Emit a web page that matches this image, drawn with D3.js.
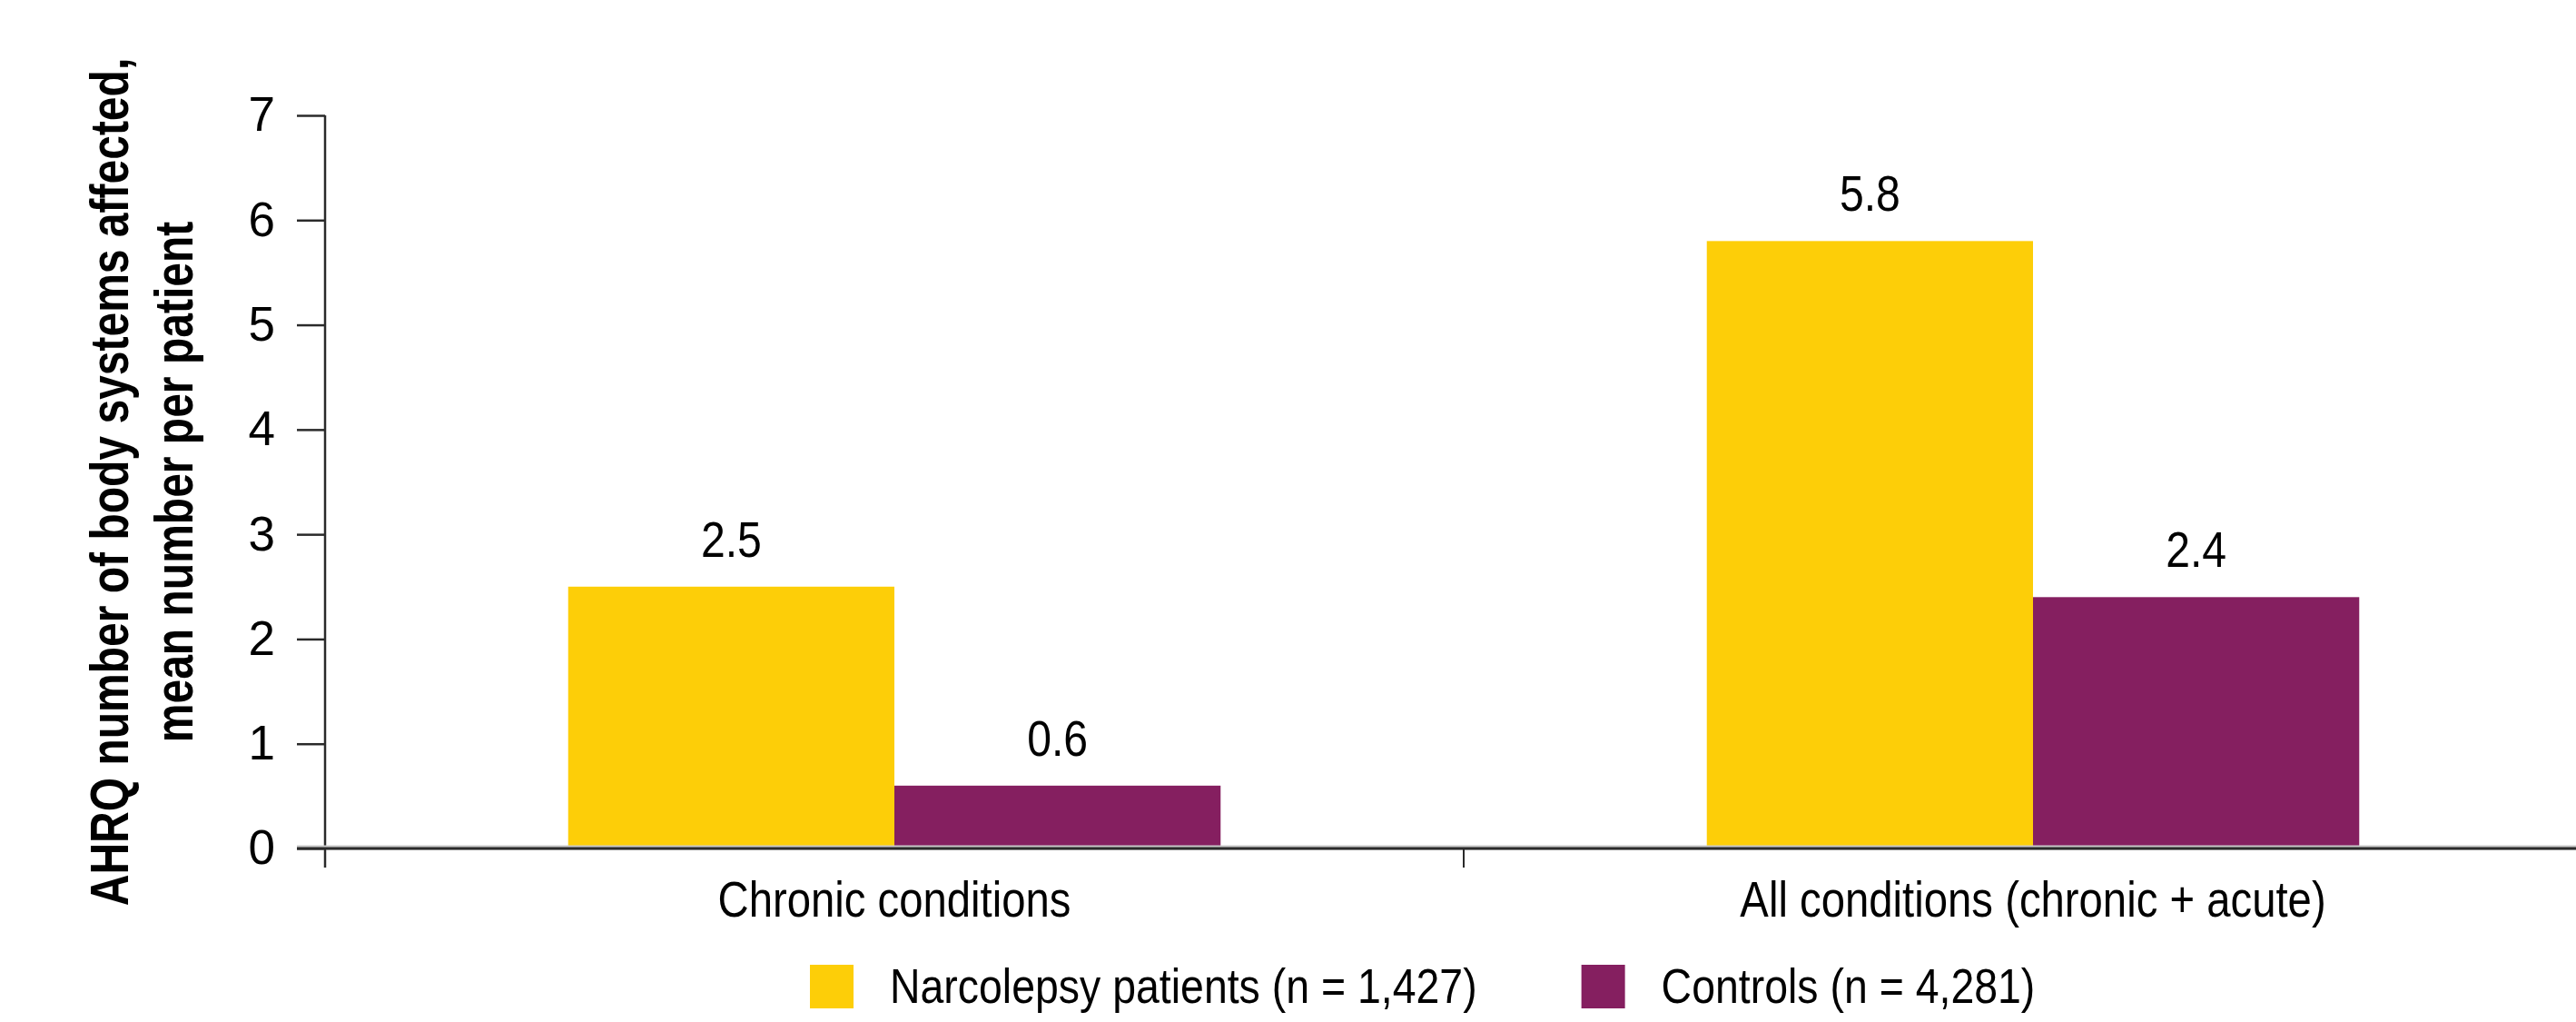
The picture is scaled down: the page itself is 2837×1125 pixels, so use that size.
<!DOCTYPE html>
<html>
<head>
<meta charset="utf-8">
<script src="https://cdn.jsdelivr.net/npm/d3@7/dist/d3.min.js"></script>
<style>
  body { margin: 0; background: #fff; }
  svg { display: block; }
</style>
</head>
<body>
<svg id="chart" width="2837" height="1125"></svg>
<script>
// Mean number of AHRQ body systems affected per patient
const categories = ["Chronic conditions", "All conditions (chronic + acute)"];
const seriesNames = ["Narcolepsy patients (n = 1,427)", "Controls (n = 4,281)"];
const narcolepsyValues = [2.5, 5.8];
const controlValues = [0.6, 2.4];
const yTickValues = [0, 1, 2, 3, 4, 5, 6, 7];
const yTitleLines = ["AHRQ number of body systems affected,", "mean number per patient"];
const seriesColors = ["#FDCE08", "#851F60"];

const rows = categories.map((c, i) => ({
  category: c,
  values: [narcolepsyValues[i], controlValues[i]]
}));

const W = 2837, H = 1125;
const plot = { left: 358, right: 2866, top: 127, bottom: 934 };
const sans = "'Liberation Sans', Arial, Helvetica, sans-serif";
// horizontal squeeze that gives the narrow, condensed letterforms
const narrow = 0.86;
const narrowBold = 0.8;

const svg = d3.select("#chart");

const y = d3.scaleLinear().domain([0, 7]).range([plot.bottom, plot.top]);
const x0 = d3.scaleBand().domain(categories).range([plot.left, plot.right])
  .paddingInner(0.427).paddingOuter(0.2135);
const x1 = d3.scaleBand().domain(d3.range(seriesNames.length)).range([0, x0.bandwidth()]);

// Bars
const groups = svg.append("g").selectAll("g").data(rows).join("g")
  .attr("transform", d => `translate(${x0(d.category)},0)`);

groups.selectAll("rect").data(d => d.values.map((v, i) => ({ v, i }))).join("rect")
  .attr("x", d => x1(d.i))
  .attr("width", x1.bandwidth())
  .attr("y", d => y(d.v))
  .attr("height", d => y(0) - y(d.v))
  .attr("fill", d => seriesColors[d.i]);

// Value labels above each bar
groups.selectAll("text").data(d => d.values.map((v, i) => ({ v, i }))).join("text")
  .attr("transform", d => `translate(${x1(d.i) + x1.bandwidth() / 2},${y(d.v) - 33}) scale(${narrow},1)`)
  .attr("text-anchor", "middle")
  .style("font-family", sans)
  .style("font-size", "56px")
  .attr("fill", "#000")
  .text(d => d3.format(".1f")(d.v));

// Y axis
const yAxis = svg.append("g")
  .attr("transform", `translate(${plot.left},0)`)
  .call(d3.axisLeft(y).tickValues(yTickValues).tickFormat(d3.format("d"))
    .tickSize(31).tickPadding(24).tickSizeOuter(0));
yAxis.select(".domain").remove();
yAxis.selectAll(".tick line").attr("stroke", "#2a2a2a").attr("stroke-width", 2.5);
yAxis.selectAll(".tick text")
  .style("font-family", sans)
  .style("font-size", "53px")
  .attr("fill", "#000");
yAxis.append("line")
  .attr("x1", 0).attr("x2", 0)
  .attr("y1", y(7)).attr("y2", y(0) + 21)
  .attr("stroke", "#2a2a2a").attr("stroke-width", 2.5);

// X axis: baseline, separators between categories
const xAxis = svg.append("g").attr("transform", `translate(0,${y(0)})`);
xAxis.append("line")
  .attr("x1", plot.left - 31).attr("x2", W)
  .attr("y1", -1).attr("y2", -1)
  .attr("stroke", "#c8c8c8").attr("stroke-width", 5);
xAxis.append("line")
  .attr("x1", plot.left - 31).attr("x2", W)
  .attr("stroke", "#2a2a2a").attr("stroke-width", 3);
const halfGap = x0.step() * x0.paddingInner() / 2;
xAxis.selectAll("line.sep").data(categories).join("line")
  .attr("class", "sep")
  .attr("x1", d => x0(d) - halfGap).attr("x2", d => x0(d) - halfGap)
  .attr("y1", 0).attr("y2", 21)
  .attr("stroke", "#2a2a2a").attr("stroke-width", 2);

// Category labels centred under each group
const xLabels = svg.append("g")
  .attr("transform", `translate(0,${y(0)})`)
  .call(d3.axisBottom(x0).tickSize(0).tickPadding(0));
xLabels.select(".domain").remove();
xLabels.selectAll(".tick text")
  .attr("dy", null)
  .attr("y", 75)
  .attr("transform", `scale(${narrow},1)`)
  .style("font-family", sans)
  .style("font-size", "55px")
  .attr("fill", "#000");

// Y axis title, two lines
const title = svg.append("text")
  .attr("transform", `translate(141,${(plot.top + plot.bottom) / 2}) rotate(-90) scale(${narrowBold},1)`)
  .attr("text-anchor", "middle")
  .style("font-family", sans)
  .style("font-weight", "bold")
  .style("font-size", "60px")
  .attr("fill", "#000");
title.selectAll("tspan").data(yTitleLines).join("tspan")
  .attr("x", 0)
  .attr("y", (d, i) => i * 71)
  .text(d => d);

// Legend
const legend = svg.append("g").attr("transform", "translate(892,1062)");
let lx = 0;
seriesNames.forEach((name, i) => {
  const item = legend.append("g").attr("transform", `translate(${lx},0)`);
  item.append("rect").attr("width", 48).attr("height", 48).attr("fill", seriesColors[i]);
  const t = item.append("text")
    .attr("transform", `translate(88,42) scale(${narrow},1)`)
    .style("font-family", sans)
    .style("font-size", "54px")
    .attr("fill", "#000")
    .text(name);
  lx += 88 + t.node().getComputedTextLength() * narrow + 115;
});
</script>
</body>
</html>
